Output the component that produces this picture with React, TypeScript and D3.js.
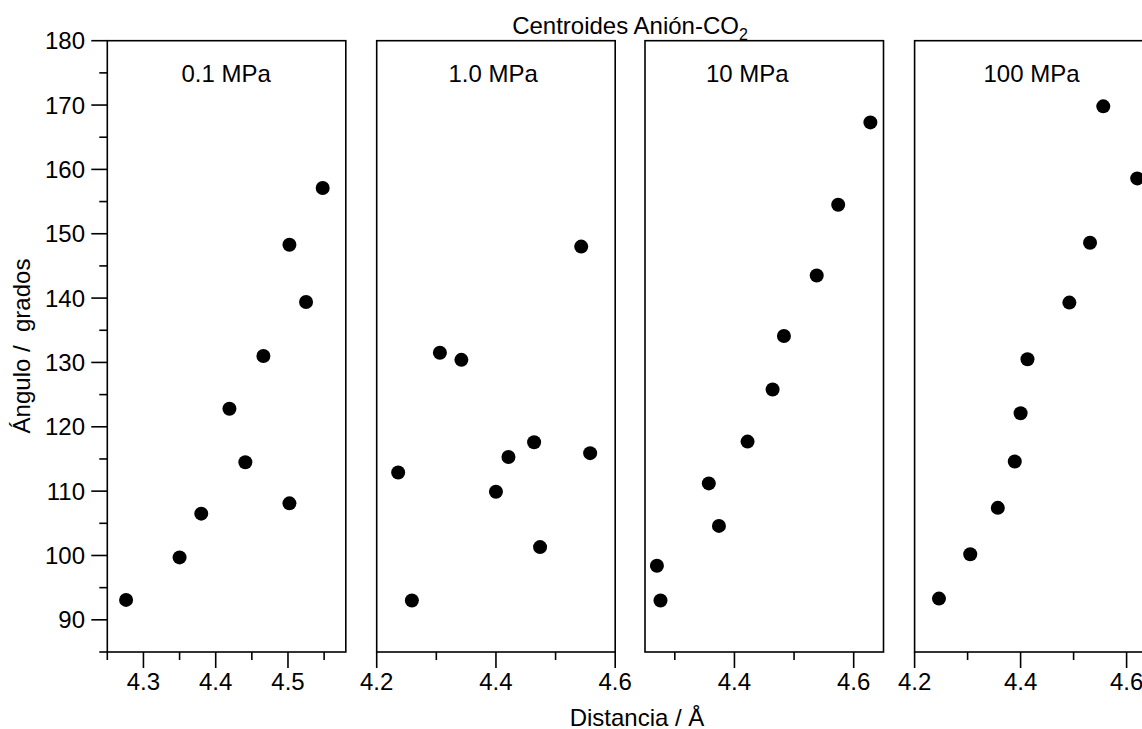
import React from "react";
import * as d3 from "d3";

// ---- Data ----
const panelLabels = ["0.1 MPa", "1.0 MPa", "10 MPa", "100 MPa"];

const dist01 = [4.276, 4.35, 4.38, 4.419, 4.441, 4.466, 4.502, 4.525, 4.502, 4.548];
const ang01 = [93.1, 99.7, 106.5, 122.8, 114.5, 131.0, 108.1, 139.4, 148.3, 157.1];

const dist1 = [4.543, 4.306, 4.342, 4.464, 4.558, 4.421, 4.236, 4.4, 4.474, 4.259];
const ang1 = [148.0, 131.5, 130.4, 117.6, 115.9, 115.3, 112.9, 109.9, 101.3, 93.0];

const dist10 = [4.628, 4.574, 4.538, 4.483, 4.464, 4.422, 4.357, 4.374, 4.27, 4.276];
const ang10 = [167.3, 154.5, 143.5, 134.1, 125.8, 117.7, 111.2, 104.6, 98.4, 93.0];

const dist100 = [4.556, 4.62, 4.531, 4.492, 4.413, 4.4, 4.389, 4.357, 4.305, 4.246];
const ang100 = [169.8, 158.6, 148.6, 139.3, 130.5, 122.1, 114.6, 107.4, 100.2, 93.3];

const xDomains = [
  [4.25, 4.58],
  [4.2, 4.6],
  [4.25, 4.65],
  [4.2, 4.65],
];
const xMajor = [
  [4.3, 4.4, 4.5],
  [4.2, 4.4, 4.6],
  [4.4, 4.6],
  [4.2, 4.4, 4.6],
];
const xMinor = [
  [4.25, 4.35, 4.45, 4.55],
  [4.3, 4.5],
  [4.3, 4.5],
  [4.3, 4.5],
];
const yMajor = [90, 100, 110, 120, 130, 140, 150, 160, 170, 180];
const yMinor = [85, 95, 105, 115, 125, 135, 145, 155, 165, 175];
const yDomain = [85, 180];

const titleText = "Centroides Anión-CO";
const xTitle = "Distancia / Å";
const yTitle = "Ángulo /\u00a0 grados";

// ---- Layout ----
const W = 1142;
const H = 729;
const panelLefts = [107.3, 376.7, 645, 914.6];
const panelW = 238.5;
const top = 40.7;
const bottom = 652;
const labelStart = [181.5, 448.5, 706, 983.5];
const FONT = "'Liberation Sans', Arial, Helvetica, sans-serif";
const FS = 24;
const SW = 1.6;

const series = [
  { d: dist01, a: ang01 },
  { d: dist1, a: ang1 },
  { d: dist10, a: ang10 },
  { d: dist100, a: ang100 },
];

export default function App() {
  const y = d3.scaleLinear().domain(yDomain).range([bottom, top]);
  return (
    <svg
      width={W}
      height={H}
      style={{ position: "absolute", left: 0, top: 0, background: "#fff", overflow: "hidden" }}
      fontFamily={FONT}
    >
      <rect x={0} y={0} width={W} height={H} fill="#fff" />
      {/* Title */}
      <text x={630} y={34} textAnchor="middle" fontSize={FS} fill="#000">
        {titleText}
        <tspan fontSize={16} dy={6}>2</tspan>
      </text>

      {/* Y axis (left panel only) */}
      {yMajor.map((v) => (
        <g key={"ym" + v}>
          <line x1={panelLefts[0] - 16} x2={panelLefts[0]} y1={y(v)} y2={y(v)} stroke="#000" strokeWidth={SW} />
          <text x={85} y={y(v)} dy="0.36em" textAnchor="end" fontSize={FS} fill="#000">
            {v}
          </text>
        </g>
      ))}
      {yMinor.map((v) => (
        <line key={"yn" + v} x1={panelLefts[0] - 8} x2={panelLefts[0]} y1={y(v)} y2={y(v)} stroke="#000" strokeWidth={SW} />
      ))}
      <text
        transform={`translate(30,346) rotate(-90)`}
        textAnchor="middle"
        fontSize={FS}
        fill="#000"
      >
        {yTitle}
      </text>

      {series.map((s, i) => {
        const x = d3
          .scaleLinear()
          .domain(xDomains[i])
          .range([panelLefts[i], panelLefts[i] + panelW]);
        return (
          <g key={"p" + i}>
            <rect
              x={panelLefts[i]}
              y={top}
              width={panelW}
              height={bottom - top}
              fill="none"
              stroke="#000"
              strokeWidth={SW}
            />
            {xMajor[i].map((t) => (
              <g key={"xm" + t}>
                <line x1={x(t)} x2={x(t)} y1={bottom} y2={bottom + 16} stroke="#000" strokeWidth={SW} />
                <text x={x(t)} y={690} textAnchor="middle" fontSize={FS} fill="#000">
                  {d3.format(".1f")(t)}
                </text>
              </g>
            ))}
            {xMinor[i].map((t) => (
              <line key={"xn" + t} x1={x(t)} x2={x(t)} y1={bottom} y2={bottom + 8} stroke="#000" strokeWidth={SW} />
            ))}
            <text x={labelStart[i]} y={82} fontSize={FS} fill="#000">
              {panelLabels[i]}
            </text>
            {s.d.map((dv, j) => (
              <circle key={"c" + j} cx={x(dv)} cy={y(s.a[j])} r={7} fill="#000" />
            ))}
          </g>
        );
      })}

      <text x={637} y={725.5} textAnchor="middle" fontSize={FS} fill="#000">
        {xTitle}
      </text>
    </svg>
  );
}
